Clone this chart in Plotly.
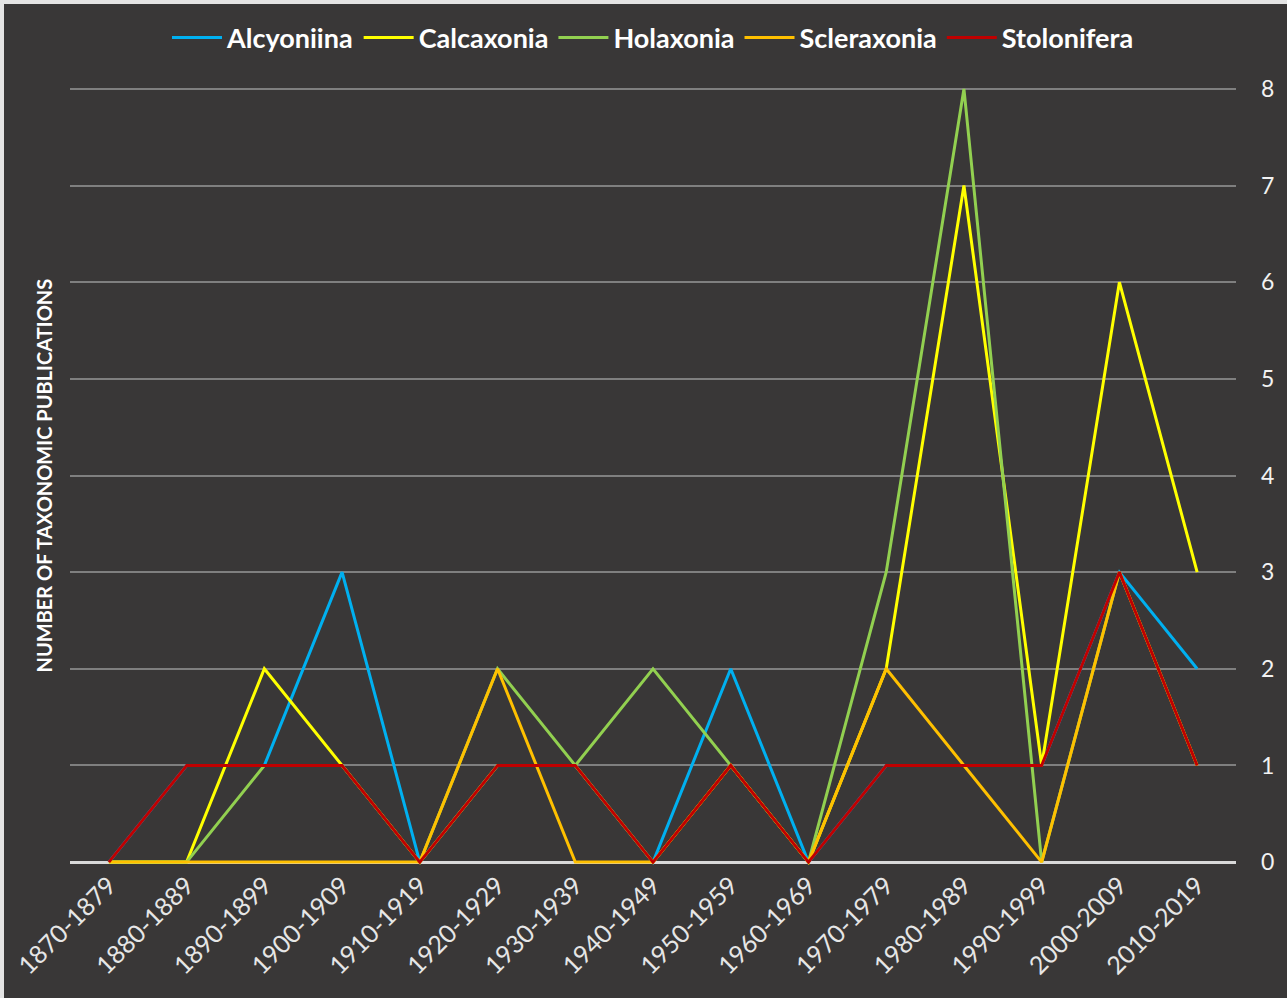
import plotly.graph_objects as go

decades = ["1870-1879", "1880-1889", "1890-1899", "1900-1909", "1910-1919",
           "1920-1929", "1930-1939", "1940-1949", "1950-1959", "1960-1969",
           "1970-1979", "1980-1989", "1990-1999", "2000-2009", "2010-2019"]

alcyoniina  = [0, 1, 1, 3, 0, 1, 1, 0, 2, 0, 1, 1, 1, 3, 2]
calcaxonia  = [0, 0, 2, 1, 0, 1, 1, 0, 1, 0, 2, 7, 1, 6, 3]
holaxonia   = [0, 0, 1, 1, 0, 2, 1, 2, 1, 0, 3, 8, 0, 3, 1]
scleraxonia = [0, 0, 0, 0, 0, 2, 0, 0, 1, 0, 2, 1, 0, 3, 1]
stolonifera = [0, 1, 1, 1, 0, 1, 1, 0, 1, 0, 1, 1, 1, 3, 1]

series = [
    ("Alcyoniina", alcyoniina, "#00B0F0"),
    ("Calcaxonia", calcaxonia, "#FFFF00"),
    ("Holaxonia", holaxonia, "#92D050"),
    ("Scleraxonia", scleraxonia, "#FFC000"),
    ("Stolonifera", stolonifera, "#C00000"),
]

y_ticks = list(range(0, 9))

W, H = 1287, 998
ML, MR, MT, MB = 70, 51, 86, 133
PW, PH = W - ML - MR, H - MT - MB
BG = "#393737"
EDGE = "#E4E4E4"
FONT = "Lato"

fig = go.Figure()
for name, vals, col in series:
    fig.add_trace(go.Scatter(x=decades, y=vals, name=name, mode="lines",
                             line=dict(color=col, width=3)))

def px_x(x):
    return (x - ML) / PW

def px_y(y):
    # y measured in pixels from the top of the figure
    return (H - MB - y) / PH

fig.update_layout(
    width=W, height=H,
    margin=dict(l=ML, r=MR, t=MT, b=MB, autoexpand=False),
    paper_bgcolor=EDGE, plot_bgcolor=BG,
    font=dict(family=FONT, color="#F2F2F2"),
    showlegend=True,
    legend=dict(orientation="h", x=0.5, xanchor="center",
                y=px_y(38), yanchor="middle",
                font=dict(size=27, color="#FFFFFF", family=FONT, weight="bold"),
                bgcolor="rgba(0,0,0,0)", itemwidth=50,
                traceorder="normal"),
    xaxis=dict(type="category", range=[-0.5, 14.5], showgrid=False,
               showline=False, zeroline=False, tickangle=-45,
               tickfont=dict(size=25, color="#E6E6E6", family=FONT),
               ticks=""),
    yaxis=dict(side="right", range=[-0.03, 8.03], tickvals=y_ticks,
               showgrid=True, gridcolor="#7F7F7F", gridwidth=1.5,
               zeroline=True, zerolinecolor="#D9D9D9", zerolinewidth=2.5,
               showline=False, ticks="", ticklabelstandoff=24,
               tickfont=dict(size=23, color="#F2F2F2", family=FONT)),
    annotations=[dict(text="<b>NUMBER OF TAXONOMIC PUBLICATIONS</b>",
                      xref="paper", yref="paper", x=px_x(43), y=0.5,
                      xanchor="center", yanchor="middle", textangle=-90,
                      showarrow=False,
                      font=dict(size=20, color="#FFFFFF", family=FONT))],
    shapes=[
        dict(type="rect", xref="paper", yref="paper", layer="below",
             x0=px_x(4), x1=px_x(W + 2), y0=px_y(H + 2), y1=px_y(4),
             fillcolor=BG, line=dict(width=0)),
    ],
)

fig.write_html("out.html", config={"displayModeBar": False},
               post_script="document.body.style.margin='0';document.body.style.padding='0';")
